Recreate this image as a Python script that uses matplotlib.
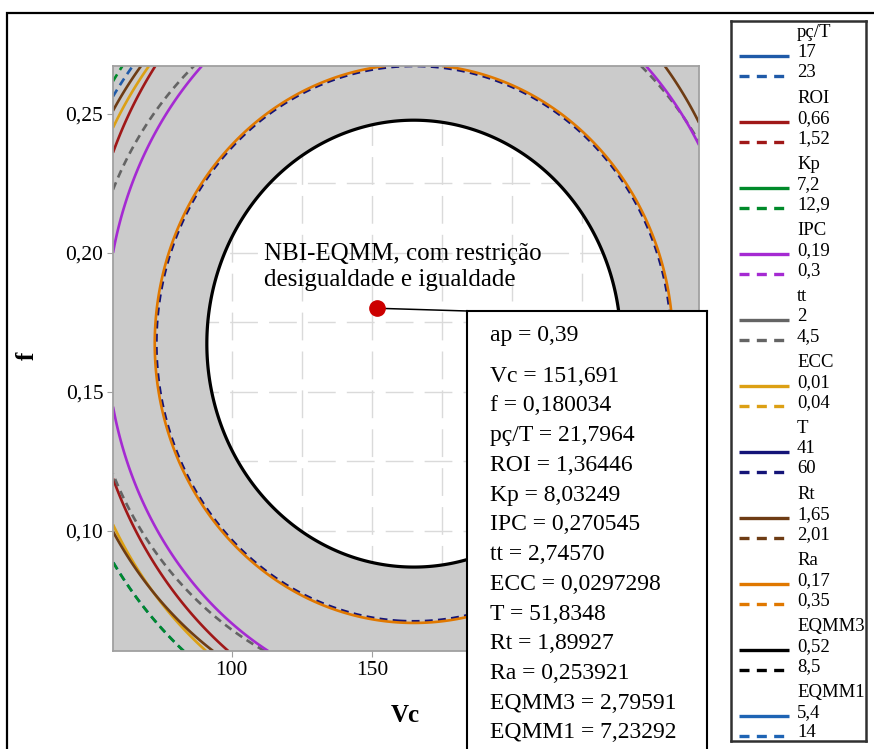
import numpy as np
import matplotlib
matplotlib.use('Agg')
import matplotlib.pyplot as plt
from matplotlib.patches import Rectangle

plt.rcParams['font.family'] = ['Liberation Serif', 'DejaVu Serif']

# responses of the overlaid contour plot, in legend order
resp = ['pç/T', 'ROI', 'Kp', 'IPC', 'tt', 'ECC', 'T', 'Rt', 'Ra', 'EQMM3', 'EQMM1']
low = [17, 0.66, 7.2, 0.19, 2, 0.01, 41, 1.65, 0.17, 0.52, 5.4]
high = [23, 1.52, 12.9, 0.3, 4.5, 0.04, 60, 2.01, 0.35, 8.5, 14]
colors = ['#1f5aa8', '#a01818', '#008a2a', '#a52ad2', '#646464', '#dca014',
          '#141478', '#6e3c14', '#e07800', '#000000', '#1e64b4']

# bound of each response whose contour falls in the window, and the ellipse
# (centre Vc, centre f, half width in Vc, half height in f)
shown = ['high', 'low', 'high', 'low', 'high', 'low', 'high', 'low', 'low', 'low', None]
vc_c = [166.1, 177.3, 165.4, 168.6, 166.3, 168.7, 165.0, 161.1, 165.0, 165.0, np.nan]
f_c = [0.1725, 0.1774, 0.1752, 0.1723, 0.1716, 0.1736, 0.1673, 0.1754, 0.1673, 0.1673, np.nan]
vc_r = [130.7, 129.8, 130.8, 113.5, 118.3, 126.8, 91.9, 122.1, 92.5, 73.9, np.nan]
f_r = [0.1502, 0.1516, 0.1528, 0.1326, 0.1295, 0.1481, 0.0999, 0.1427, 0.1005, 0.0804, np.nan]

# optimum found (annotation box)
opt_names = ['ap', 'Vc', 'f', 'pç/T', 'ROI', 'Kp', 'IPC', 'tt', 'ECC', 'T', 'Rt', 'Ra', 'EQMM3', 'EQMM1']
opt_values = ['0,39', '151,691', '0,180034', '21,7964', '1,36446', '8,03249', '0,270545',
              '2,74570', '0,0297298', '51,8348', '1,89927', '0,253921', '2,79591', '7,23292']

xticks = [100, 150, 200, 250]
yticks = [0.10, 0.15, 0.20, 0.25]


def fmt(v):
    return str(v).replace('.', ',')


W, H = 874, 749
fig = plt.figure(figsize=(W / 100, H / 100), dpi=100)

# outer frame
fig.patches.append(Rectangle((7 / W, -0.1), 1.2, 1 - 13 / H + 0.1, transform=fig.transFigure,
                             fill=False, ec='black', lw=1.6))

ax = fig.add_axes([113 / W, 1 - 651 / H, 586 / W, 585 / H])
ax.set_xlim(57.6, 266.8)
ax.set_ylim(0.0567, 0.2672)

vc = np.linspace(57.6, 266.8, 700)
ff = np.linspace(0.0567, 0.2672, 700)
VC, FF = np.meshgrid(vc, ff)

def qfield(i):
    return ((VC - vc_c[i]) / vc_r[i]) ** 2 + ((FF - f_c[i]) / f_r[i]) ** 2

# infeasible region in grey (outside the EQMM3 contour)
i_eq = resp.index('EQMM3')
ax.contourf(VC, FF, qfield(i_eq), levels=[1, 1e9], colors=['#cbcbcb'], zorder=1)

order = [1, 5, 7, 0, 2, 4, 3, 6, 8, 9]
for i in order:
    if shown[i] is None:
        continue
    ls = '-' if shown[i] == 'low' else (0, (3, 2))
    lw = 2.3 if resp[i] == 'EQMM3' else 1.9
    ax.contour(VC, FF, qfield(i), levels=[1], colors=[colors[i]], linewidths=lw,
               linestyles=[ls], zorder=2 + order.index(i) * 0.01)

ax.set_axisbelow(True)
ax.set_xticks(xticks)
# 200 and 250 sit under the value box
ax.set_xticklabels([fmt(v) if v < 200 else '' for v in xticks])
ax.set_yticks(yticks)
ax.set_yticklabels([('%.2f' % v).replace('.', ',') for v in yticks])
ax.set_xticks(np.arange(75, 260, 25), minor=True)
ax.set_yticks(np.arange(0.075, 0.26, 0.025), minor=True)
ax.grid(True, which='both', color='#dadada', lw=1.0, dashes=(20, 8))
ax.tick_params(which='major', direction='out', length=4, color='#a0a0a0', labelsize=15.5, pad=3)
ax.tick_params(which='minor', length=0)
for s in ax.spines.values():
    s.set_color('#a0a0a0')
    s.set_linewidth(1.3)

fig.text(405 / W, 1 - 715 / H, 'Vc', fontsize=18, fontweight='bold', ha='center', va='center')
fig.text(27 / W, 1 - 356 / H, 'f', fontsize=18, fontweight='bold', ha='center', va='center',
         rotation=90)

# optimum point, label and leader line to the box
vc_opt = float(opt_values[1].replace(',', '.'))
f_opt = float(opt_values[2].replace(',', '.'))
ax.plot([vc_opt], [f_opt], 'o', color='#cc0000', markersize=11, zorder=5)
ax.annotate('NBI-EQMM, com restrição\ndesigualdade e igualdade', xy=(vc_opt, f_opt),
            xytext=(-113, 41), textcoords='offset pixels', ha='left', va='center',
            fontsize=18, linespacing=1.22, zorder=6)
ax.annotate('', xy=(vc_opt, f_opt), xycoords='data', xytext=(467 / W, 1 - 311 / H),
            textcoords='figure fraction', annotation_clip=False,
            arrowprops=dict(arrowstyle='-', color='black', lw=1.1, shrinkA=0, shrinkB=0))

# box with the optimum values
bx = fig.add_axes([467 / W, -0.05, 240 / W, (H - 311) / H + 0.05])
bx.set_xticks([])
bx.set_yticks([])
for s in bx.spines.values():
    s.set_color('black')
    s.set_linewidth(1.5)
for k, (n, v) in enumerate(zip(opt_names, opt_values)):
    ypx = 335 if k == 0 else 376 + 29.75 * (k - 1)
    fig.text(490 / W, 1 - ypx / H, n + ' = ' + v, fontsize=17, ha='left', va='center')

# legend
lax = fig.add_axes([731 / W, 1 - 741 / H, 135 / W, 720 / H])
lax.set_xlim(731, 866)
lax.set_ylim(741, 21)
lax.set_xticks([])
lax.set_yticks([])
for s in lax.spines.values():
    s.set_color('#303030')
    s.set_linewidth(1.8)
for g in range(len(resp)):
    y0 = 33 + 66 * g
    lax.text(797, y0, resp[g], fontsize=13.5, ha='left', va='center')
    lax.text(797, y0 + 20, fmt(low[g]), fontsize=13.5, ha='left', va='center')
    lax.text(797, y0 + 40, fmt(high[g]), fontsize=13.5, ha='left', va='center')
    lax.plot([739, 789], [y0 + 23, y0 + 23], color=colors[g], lw=2.4, solid_capstyle='butt')
    lax.plot([739, 789], [y0 + 43, y0 + 43], color=colors[g], lw=2.4, dashes=(3, 2.2))

fig.savefig('out.png', dpi=100)
